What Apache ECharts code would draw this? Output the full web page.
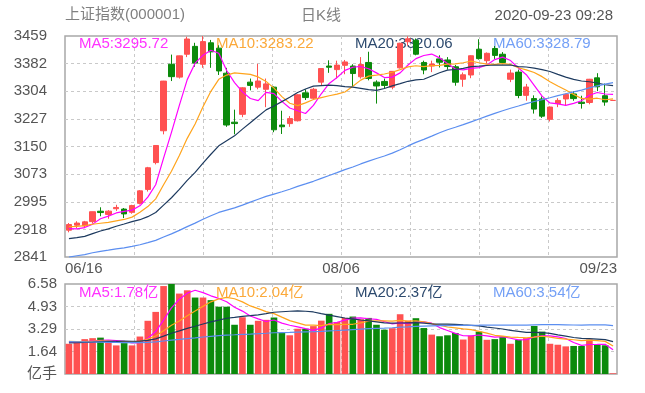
<!DOCTYPE html>
<html><head><meta charset="utf-8">
<script src="https://cdn.jsdelivr.net/npm/echarts@6/dist/echarts.min.js"></script>
<style>html,body{margin:0;padding:0;background:#fff}#c{width:645px;height:393px}</style>
</head><body><div id="c"></div>
<script>
// ---------------- data ----------------
const dates = ['06/16','06/17','06/18','06/19','06/22','06/23','06/24','06/29','06/30','07/01',
 '07/02','07/03','07/06','07/07','07/08','07/09','07/10','07/13','07/14','07/15',
 '07/16','07/17','07/20','07/21','07/22','07/23','07/24','07/27','07/28','07/29',
 '07/30','07/31','08/03','08/04','08/05','08/06','08/07','08/10','08/11','08/12',
 '08/13','08/14','08/17','08/18','08/19','08/20','08/21','08/24','08/25','08/26',
 '08/27','08/28','08/31','09/01','09/02','09/03','09/04','09/07','09/08','09/09',
 '09/10','09/11','09/14','09/15','09/16','09/17','09/18','09/21','09/22','09/23'];
const opens = [2916,2930,2928,2940,2969,2960,2976,2975,2966,2991,
 3030,3105,3194,3380,3344,3408,3430,3380,3440,3425,
 3355,3218,3240,3330,3316,3310,3316,3210,3214,3222,
 3300,3285,3330,3375,3365,3377,3375,3345,3385,3330,
 3332,3316,3370,3443,3447,3385,3375,3395,3392,3373,
 3338,3350,3422,3390,3424,3408,3338,3358,3293,3284,
 3283,3226,3270,3283,3297,3274,3273,3342,3292,3278.84];
const closes = [2931.75,2935.87,2939.32,2967.63,2965.27,2969.20,2979.55,2961.52,2984.67,3025.98,
 3090.57,3152.81,3332.88,3345.34,3403.44,3450.59,3383.32,3443.29,3414.62,3361.30,
 3210.10,3214.13,3314.15,3320.90,3333.16,3325.11,3196.77,3205.23,3227.96,3294.55,
 3286.82,3310.01,3367.97,3371.69,3377.56,3386.46,3354.04,3379.25,3340.29,3319.27,
 3320.73,3360.10,3438.80,3451.09,3408.13,3363.90,3380.68,3385.64,3373.58,3329.74,
 3350.59,3403.81,3395.68,3410.61,3404.80,3384.98,3355.37,3292.59,3316.42,3254.63,
 3234.82,3260.35,3278.81,3295.68,3283.93,3270.44,3338.09,3316.94,3274.30,3278.84];
const lows = [2910,2921,2922,2935,2955,2948,2970,2950,2962,2988,
 3024,3100,3184,3333,3340,3400,3373,3370,3370,3350,
 3205,3184,3232,3307,3310,3260,3190,3185,3205,3220,
 3280,3280,3320,3356,3340,3352,3317,3340,3335,3270,
 3312,3310,3368,3432,3405,3352,3358,3371,3365,3320,
 3317,3341,3393,3382,3395,3380,3330,3285,3278,3242,
 3230,3220,3260,3265,3278,3256,3268,3305,3264,3278.84];
const highs = [2936,2941,2942,2968,2980,2972,2987,2978,2987,3028,
 3093,3153.5,3333.5,3407,3404,3456.97,3440,3458.79,3448,3433,
 3370,3253,3316,3340,3381,3340,3318,3250,3235,3296,
 3310,3314,3368,3391,3390,3392,3380,3400,3415,3335,
 3340,3361,3440,3458,3452,3390,3390,3405,3400,3378,
 3357,3405,3450,3413,3431,3414,3365,3365,3325,3293,
 3290,3262,3285,3298,3305,3292,3339,3355,3326,3278.84];
const volumes = [2.21,2.30,2.55,2.62,2.66,2.30,2.09,2.26,2.09,2.74,
 3.89,4.54,6.43,6.58,5.88,6.12,5.59,5.59,5.40,4.92,
 4.92,3.60,4.15,3.60,3.89,3.96,4.13,3.00,2.83,3.31,
 3.31,3.50,3.90,4.40,3.80,4.10,4.20,4.00,4.10,3.60,
 3.24,3.35,4.37,3.89,4.08,3.36,2.88,2.76,2.83,3.00,
 2.52,2.80,3.10,2.50,2.55,2.70,2.21,2.50,2.62,3.51,
 3.10,2.21,2.14,2.02,2.05,2.05,2.52,2.16,2.10,0.05];
// closes / volumes of the 59 sessions before 06/16 (needed for the moving averages)
const priorCloses = [2702.13,2745.62,2660.17,2722.44,2781.59,2764.91,2772.20,2747.21,2750.30,
 2734.52,2780.64,2763.99,2820.76,2815.37,2825.90,2796.63,2783.05,2827.28,2811.17,2819.94,
 2838.49,2852.55,2827.01,2843.98,2838.50,2808.53,2815.49,2810.02,2822.44,2860.08,
 2878.14,2871.52,2895.34,2894.80,2891.56,2898.05,2870.34,2868.46,2875.42,2898.58,
 2883.74,2867.92,2813.77,2817.97,2846.55,2836.80,2836.80,2852.35,
 2915.43,2921.40,2923.37,2919.25,2930.80,2937.77,2943.75,2938.98,2920.90,2919.74,2890.03];
const priorVolumes = [3.1,3.2,3.0,3.1,3.2,2.9,2.8,2.6,2.5,
 2.5,2.7,2.5,2.8,2.5,2.4,2.3,2.1,2.3,2.3,2.2,
 2.3,2.4,2.2,2.2,2.1,2.0,2.1,2.0,2.0,2.4,
 2.6,2.3,2.4,2.4,2.2,2.1,2.1,1.9,2.0,2.2,
 2.0,2.0,2.3,1.9,2.0,1.9,2.1,2.2,
 2.6,2.6,2.5,2.4,2.4,2.4,2.5,2.4,2.3,2.3,2.4];
const maPeriods = [5, 10, 20, 60];
const priceTickLabels = ['2841','2918','2995','3073','3150','3227','3304','3382','3459'];
const volumeTickLabels = ['亿手','1.64','3.29','4.93','6.58'];
const dateTickLabels = ['06/16','','','','08/06','','','','09/23'];
const priceLegend = ['MA5:3295.72','MA10:3283.22','MA20:3320.06','MA60:3328.79'];
const volumeLegend = ['MA5:1.78亿','MA10:2.04亿','MA20:2.37亿','MA60:3.54亿'];
const titleTexts = ['上证指数(000001)','日K线','2020-09-23 09:28'];

// ---------------- styles ----------------
const UP = '#ff5151', DOWN = '#0b8a0b';
const MA_COLORS = ['#ff00ff', '#ffa41c', '#1d3a5f', '#5b8ef0'];
const LEGEND_COLORS = ['#ff33ff', '#fba93a', '#2d4a6e', '#74a0f6'];
const FONT = '"Liberation Sans", Arial, "Noto Sans CJK SC", sans-serif';
const GRID_LINE = {show: true, showMinLine: false, showMaxLine: false,
  lineStyle: {color: '#c9c9c9', type: [3, 3], width: 1}};

function movingAverage(prior, vals, n) {
  const all = prior.concat(vals);
  const off = prior.length;
  return vals.map((_, i) => {
    let s = 0;
    for (let k = off + i - n + 1; k <= off + i; k++) s += all[k];
    return +(s / n).toFixed(3);
  });
}
function sign(i) {
  if (closes[i] > opens[i]) return 1;
  if (closes[i] < opens[i]) return -1;
  return (i > 0 && closes[i] < closes[i - 1]) ? -1 : 1;
}

const candleData = opens.map((o, i) => [o, closes[i], lows[i], highs[i]]);
const volData = volumes.map((v, i) => ({value: v, itemStyle: {color: sign(i) > 0 ? UP : DOWN}}));

const series = [{
  type: 'candlestick', xAxisIndex: 0, yAxisIndex: 0, data: candleData, barWidth: '74%',
  itemStyle: {color: UP, color0: DOWN, borderColor: UP, borderColor0: DOWN, borderWidth: 1},
  silent: true
}];
maPeriods.forEach((n, k) => {
  series.push({type: 'line', xAxisIndex: 0, yAxisIndex: 0, showSymbol: false, silent: true,
    data: movingAverage(priorCloses, closes, n), lineStyle: {color: MA_COLORS[k], width: 1.2}, z: 3});
});
series.push({type: 'bar', xAxisIndex: 1, yAxisIndex: 1, data: volData, barCategoryGap: '16%', silent: true});
maPeriods.forEach((n, k) => {
  series.push({type: 'line', xAxisIndex: 1, yAxisIndex: 1, showSymbol: false, silent: true,
    data: movingAverage(priorVolumes, volumes, n), lineStyle: {color: MA_COLORS[k], width: 1.2}, z: 3});
});

const legendX = [79, 216, 355, 493];
const graphics = [];
legendX.forEach((x, k) => {
  graphics.push({type: 'text', left: x, top: 36, z: 1,
    style: {text: priceLegend[k], fill: LEGEND_COLORS[k], font: '15px ' + FONT}});
  graphics.push({type: 'text', left: x, top: 285, z: 1,
    style: {text: volumeLegend[k], fill: LEGEND_COLORS[k], font: '15px ' + FONT}});
});
graphics.push({type: 'text', left: 65, top: 7, style: {text: titleTexts[0], fill: '#808080', font: '15px ' + FONT}});
graphics.push({type: 'text', x: 321, y: 16, style: {text: titleTexts[1], fill: '#808080', font: '15px ' + FONT, align: 'center', verticalAlign: 'middle'}});
graphics.push({type: 'text', x: 613, y: 16, style: {text: titleTexts[2], fill: '#555', font: '15px ' + FONT, align: 'right', verticalAlign: 'middle'}});

const chart = echarts.init(document.getElementById('c'), null, {renderer: 'canvas'});
chart.setOption({
  animation: false,
  backgroundColor: '#fff',
  textStyle: {fontFamily: FONT},
  grid: [
    {left: 65, top: 36, width: 552, height: 221, show: true, borderColor: '#a8a8a8', borderWidth: 1.5, outerBoundsMode: 'none'},
    {left: 65, top: 284, width: 552, height: 90, show: true, borderColor: '#a8a8a8', borderWidth: 1.5, outerBoundsMode: 'none'}
  ],
  xAxis: [
    {type: 'category', gridIndex: 0, data: dates, boundaryGap: true, show: false},
    {type: 'category', gridIndex: 1, data: dates, boundaryGap: true, show: false},
    {type: 'value', gridIndex: 0, min: 0, max: 8, interval: 1, position: 'bottom',
      axisLine: {show: false}, axisTick: {show: false}, splitLine: GRID_LINE,
      axisLabel: {show: true, margin: 4, fontSize: 15, color: '#555', fontFamily: FONT,
        alignMinLabel: 'left', alignMaxLabel: 'right', showMinLabel: true, showMaxLabel: true,
        formatter: v => dateTickLabels[Math.round(v)] || ''}},
    {type: 'value', gridIndex: 1, min: 0, max: 8, interval: 1,
      axisLine: {show: false}, axisTick: {show: false}, axisLabel: {show: false}, splitLine: GRID_LINE}
  ],
  yAxis: [
    {type: 'value', gridIndex: 0, min: 2841, max: 3459, interval: 77.25, scale: true,
      axisLine: {show: false}, axisTick: {show: false}, splitLine: GRID_LINE,
      axisLabel: {margin: 18, fontSize: 15, color: '#555', fontFamily: FONT, showMinLabel: true, showMaxLabel: true,
        padding: [4, 0, 0, 0],
        formatter: v => priceTickLabels[Math.round((v - 2841) / 77.25)]}},
    {type: 'value', gridIndex: 1, min: 0, max: 6.58, interval: 1.645,
      axisLine: {show: false}, axisTick: {show: false}, splitLine: GRID_LINE,
      axisLabel: {margin: 8, fontSize: 15, color: '#555', fontFamily: FONT, showMinLabel: true, showMaxLabel: true,
        padding: [4, 0, 0, 0],
        formatter: v => volumeTickLabels[Math.round(v / 1.645)]}}
  ],
  graphic: graphics,
  series: series
});
</script></body></html>
